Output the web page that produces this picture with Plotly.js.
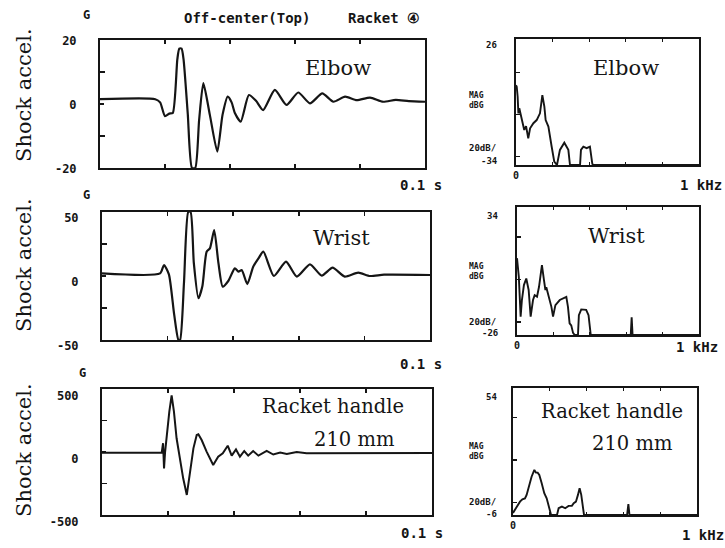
<!DOCTYPE html>
<html><head><meta charset="utf-8">
<script src="https://cdn.plot.ly/plotly-3.0.1.min.js"></script>
<style>html,body{margin:0;padding:0;background:#fff}#chart{width:725px;height:548px}</style>
</head><body><div id="chart"></div>
<script>
// ---- Time histories (t in ms over 0..100 ms = 0.1 s) ----
const elbowT = [0, 17, 18.5, 20, 21.3, 22.4, 23.8, 24.4, 25.1, 25.7, 27, 28.3, 29.3, 30.5, 31.8, 33.8, 36.1, 37.7, 39.3, 40.5, 41.5, 43.3, 45.8, 48, 50.2, 53.8, 57.4, 61.0, 64.6, 68.4, 71.8, 75.4, 79, 83.1, 87.1, 91, 95, 100];
const elbowG = [1.5, 1.5, 0.5, -3.8, -3.0, -2.8, 14, 17.3, 17.3, 14, -3, -20, -20, -5, 6.5, -3.4, -14.9, -3.4, 2.3, 0.5, -2.8, -5.5, 2.8, 1, -1.9, 4.4, -0.3, 3.6, 0.2, 3.3, 0.7, 2.3, 1.2, 2.0, 0.7, 1.3, 0.9, 0.7];

const wristT = [0, 17.7, 18.9, 20.4, 22, 23.3, 23.8, 25, 26.3, 27, 28, 29.4, 30.6, 31.9, 32.9, 34.2, 35.5, 36.8, 38.5, 40.5, 41.6, 42.6, 44.3, 46.1, 47.7, 49.2, 52.4, 56.1, 59.4, 63.4, 67, 70.3, 74, 78.1, 81.7, 86, 100];
const wristG = [2, 2, 8.6, 1.3, -30, -50, -50, -5, 50, 50, 10, -17.4, -8, 19, 21.6, 35.9, 10, -8.3, -3.9, 6, 3.4, 4.7, -6.3, 7.3, 13.8, 19, 0, 11.2, -0.5, 9.1, 0.3, 6.5, -0.5, 2.6, 0, 1, 0.8];

const handleT = [0, 18.1, 18.5, 18.8, 19.1, 19.6, 20.4, 21.1, 21.8, 22.6, 23.6, 24.6, 25.7, 26.7, 27.7, 28.7, 29.2, 30.2, 31.7, 33.7, 35.2, 36.6, 38.1, 39.3, 40.6, 41.8, 43.1, 44.3, 45.8, 47.4, 49.9, 51.9, 54, 56, 59, 62, 100];
const handleG = [-5, -5, 70, -130, -5, 135, 320, 450, 320, 109, -50, -209, -341, -156, 29, 135, 140, 95, 3, -103, -37, -10, 50, -29, 20, -37, 8, -29, 8, -29, 8, -20, -5, -15, 0, -10, -8];

// ---- Spectra (f in Hz over 0..1000 Hz, magnitude in dBG) ----
const elbowF = [0, 4, 9, 13, 18, 31, 45, 55, 67, 77, 95, 113, 131, 144, 155, 162, 177, 195, 209, 224, 232, 240, 264, 286, 295, 350, 355, 368, 386, 404, 417, 422, 1000];
const elbowDB = [4, 3.3, -1.5, -9.4, -7, -12.6, -17.3, -15.5, -21.3, -16.5, -14.1, -12.6, -9.4, -0.7, -6.2, -12.6, -15.7, -25.3, -32.4, -34, -30, -26.8, -23.4, -26.8, -34, -34, -26.8, -25.3, -26, -25.3, -33.5, -34, -34];

const wristF = [0, 2, 10, 15, 20, 27, 38, 51, 64, 75, 88, 97, 110, 121, 137, 148, 156, 161, 174, 189, 198, 211, 235, 262, 271, 280, 289, 298, 308, 317, 335, 340, 353, 380, 393, 405, 410, 625, 630, 635, 1000];
const wristDB = [10, 8.4, 1.3, -8.1, -17.4, -9.6, -2.6, 0.5, -4.9, -17.4, -9.6, -7.3, -8, -3.4, 6.8, -0.2, -4.9, -3.6, -8.1, -12.8, -17.4, -12, -9.6, -8.4, -8.1, -12.8, -20.5, -21.5, -25, -26, -26, -16.7, -14, -14.2, -16.7, -25.8, -26, -26, -17.7, -26, -26];

const handleF = [0, 11, 25, 38, 51, 65, 74, 87, 101, 116, 125, 134, 143, 156, 170, 183, 196, 207, 239, 248, 266, 284, 302, 320, 330, 342, 353, 362, 371, 378, 386, 620, 627, 633, 1000];
const handleDB = [-5, -3.6, -1.2, 0.3, 1.4, 1.8, 3.5, 7.4, 12.1, 15.3, 14, 14, 12.9, 9, 4.3, 1.9, -2, -6, -6, -2.8, -2, -2.8, -1.7, -1.7, -0.4, 0.3, 3.5, 6.7, 3.5, -2, -6, -6, -0.8, -6, -6];

// ---- Axis labels ----
const elbowYLabels = ['-20', '0', '20'];
const wristYLabels = ['-50', '0', '50'];
const handleYLabels = ['-500', '0', '500'];
const elbowDbRange = [-34, 26];
const wristDbRange = [-26, 34];
const handleDbRange = [-6, 54];

const W = 725, H = 548;
const mono = 'DejaVu Sans Mono';
const serif = 'DejaVu Serif';
const ink = '#151515';
const dx = (a, b) => [a / W, b / W];
const dy = (top, bottom) => [1 - bottom / H, 1 - top / H];

function timeX(dom) {
  return {domain: dom, range: [0, 100], showline: true, linewidth: 2, linecolor: ink, mirror: 'ticks',
    ticks: 'inside', ticklen: 4, tickwidth: 1.5, tickcolor: ink, tickmode: 'array', tickvals: [20, 40, 60, 80],
    showticklabels: false, showgrid: false, zeroline: false, fixedrange: true};
}
function timeY(dom, lim, labels, shift) {
  return {domain: dom, range: [-lim, lim], showline: true, linewidth: 2, linecolor: ink, mirror: true,
    ticks: 'inside', ticklen: 4, tickwidth: 1.5, tickcolor: ink, tickmode: 'array', tickvals: [-lim, 0, lim], ticktext: labels,
    tickfont: {family: mono, size: 12, color: ink, weight: 'bold'}, ticklabelstandoff: 19, ticklabelshift: shift,
    minor: {tickmode: 'array', tickvals: [-lim / 2, lim / 2], ticks: 'inside', ticklen: 5, tickwidth: 1.5, tickcolor: ink, showgrid: false},
    showgrid: false, zeroline: false, fixedrange: true};
}
function fftX(dom) {
  return {domain: dom, range: [0, 1000], showline: true, linewidth: 2, linecolor: ink, mirror: 'ticks',
    ticks: 'inside', ticklen: 3, tickwidth: 1.2, tickcolor: ink, tickmode: 'array', tickvals: [0, 200, 400, 600, 800],
    ticktext: ['0', '', '', '', ''], tickfont: {family: mono, size: 10, color: ink, weight: 'bold'},
    showgrid: false, zeroline: false, fixedrange: true};
}
function fftY(dom, rng, ticks) {
  return {domain: dom, range: rng, showline: true, linewidth: 2, linecolor: ink, mirror: true,
    ticks: 'inside', ticklen: 4, tickwidth: 1.5, tickcolor: ink, tickmode: 'array', tickvals: ticks,
    showticklabels: false, showgrid: false, zeroline: false, fixedrange: true};
}

const lineT = {color: ink, width: 2.2, shape: 'spline', smoothing: 0.6};
const lineF = {color: ink, width: 1.9};
const traces = [
  {x: elbowT, y: elbowG, xaxis: 'x', yaxis: 'y', mode: 'lines', line: lineT},
  {x: wristT, y: wristG, xaxis: 'x2', yaxis: 'y2', mode: 'lines', line: lineT},
  {x: handleT, y: handleG, xaxis: 'x3', yaxis: 'y3', mode: 'lines', line: {color: ink, width: 2}},
  {x: elbowF, y: elbowDB, xaxis: 'x4', yaxis: 'y4', mode: 'lines', line: lineF},
  {x: wristF, y: wristDB, xaxis: 'x5', yaxis: 'y5', mode: 'lines', line: lineF},
  {x: handleF, y: handleDB, xaxis: 'x6', yaxis: 'y6', mode: 'lines', line: lineF}
];

function ann(text, px, py, size, family, extra) {
  return Object.assign({text: text, x: px / W, y: 1 - py / H, xref: 'paper', yref: 'paper', showarrow: false,
    xanchor: 'center', yanchor: 'middle',
    font: {family: family || mono, size: size || 12, color: ink, weight: family === serif ? 'normal' : 'bold'}}, extra || {});
}

const annotations = [
  ann('Off-center(Top)', 247, 18, 14),
  ann('Racket ④', 384, 18, 14),
  ann('G', 86, 15, 12), ann('G', 86, 195, 12), ann('G', 82, 373, 12),
  ann('Shock accel.', 24, 95, 21, serif, {textangle: -90}),
  ann('Shock accel.', 24, 265, 21, serif, {textangle: -90}),
  ann('Shock accel.', 24, 450, 21, serif, {textangle: -90}),
  ann('0.1 s', 421, 185, 14), ann('0.1 s', 421, 364, 14), ann('0.1 s', 422, 533, 14),
  ann('Elbow', 338, 68, 21, serif), ann('Wrist', 341, 238, 21, serif),
  ann('Racket handle', 333, 406, 19.5, serif), ann('210 mm', 354, 439, 19.5, serif),
  ann('Elbow', 626, 68, 21, serif), ann('Wrist', 616, 236, 21, serif),
  ann('Racket handle', 612, 411, 19.5, serif), ann('210 mm', 632, 443, 19.5, serif),
  ann('1 kHz', 701, 185, 14), ann('1 kHz', 697, 347, 14), ann('1 kHz', 703, 535, 14),
  // spectrum y labels
  ann(String(elbowDbRange[1]), 499, 45, 9, mono, {xanchor: 'right'}),
  ann('MAG<br>dBG', 467, 100, 8, mono, {xanchor: 'left', align: 'left'}),
  ann('20dB/', 467, 148, 9, mono, {xanchor: 'left'}),
  ann(String(elbowDbRange[0]), 500, 161, 9, mono, {xanchor: 'right'}),
  ann(String(wristDbRange[1]), 500, 216, 9, mono, {xanchor: 'right'}),
  ann('MAG<br>dBG', 467, 271, 8, mono, {xanchor: 'left', align: 'left'}),
  ann('20dB/', 467, 322, 9, mono, {xanchor: 'left'}),
  ann(String(wristDbRange[0]), 500, 333, 9, mono, {xanchor: 'right'}),
  ann(String(handleDbRange[1]), 499, 397, 9, mono, {xanchor: 'right'}),
  ann('MAG<br>dBG', 467, 451, 8, mono, {xanchor: 'left', align: 'left'}),
  ann('20dB/', 467, 502, 9, mono, {xanchor: 'left'}),
  ann(String(handleDbRange[0]), 499, 514, 9, mono, {xanchor: 'right'})
];

const layout = {
  width: W, height: H, margin: {l: 0, r: 0, t: 0, b: 0},
  paper_bgcolor: '#ffffff', plot_bgcolor: '#ffffff', showlegend: false,
  xaxis: timeX(dx(100, 425)), yaxis: timeY(dy(40, 168), 20, elbowYLabels, 1),
  xaxis2: timeX(dx(102, 430)), yaxis2: timeY(dy(212, 340), 50, wristYLabels, 6),
  xaxis3: timeX(dx(102, 432)), yaxis3: timeY(dy(389, 515), 500, handleYLabels, 7),
  xaxis4: fftX(dx(516, 699)), yaxis4: fftY(dy(39, 165), elbowDbRange, [10, -10, -30]),
  xaxis5: fftX(dx(517, 699)), yaxis5: fftY(dy(207, 335), wristDbRange, [20, 0, -20]),
  xaxis6: fftX(dx(513, 697)), yaxis6: fftY(dy(388, 515), handleDbRange, [40, 20, 0]),
  annotations: annotations
};
for (let i = 1; i <= 6; i++) {
  const s = i === 1 ? '' : String(i);
  layout['xaxis' + s].anchor = 'y' + s;
  layout['yaxis' + s].anchor = 'x' + s;
}

Plotly.newPlot('chart', traces, layout, {displayModeBar: false, staticPlot: true});
</script>
</body></html>
